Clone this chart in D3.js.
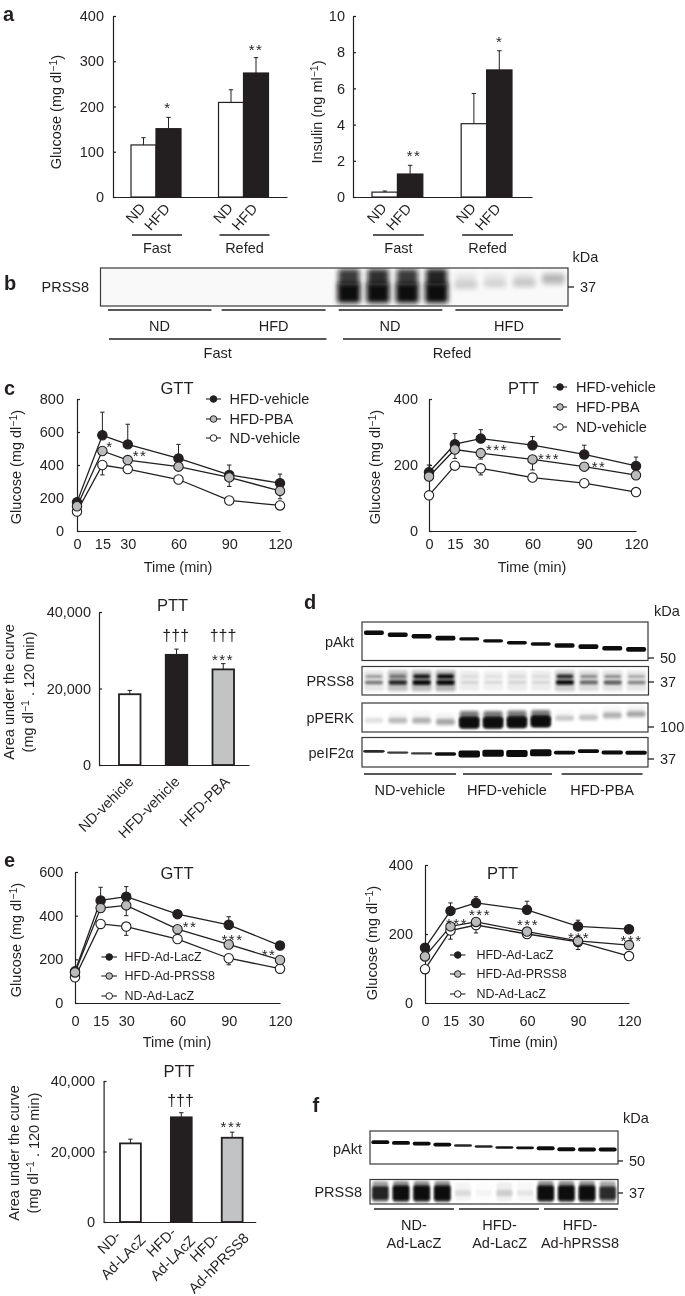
<!DOCTYPE html>
<html>
<head>
<meta charset="utf-8">
<script src="https://cdn.jsdelivr.net/npm/d3@7"></script>
<style>
  html, body { margin: 0; padding: 0; background: #fff; }
  svg { display: block; filter: blur(0.3px); }
  text { font-family: "Liberation Sans", Arial, sans-serif; font-size: 14.5px; fill: #231f20; }
  .domain, .tick line { stroke: #231f20; stroke-width: 1.2px; }
</style>
</head>
<body>
<svg id="fig" width="685" height="1296"></svg>
<script>
// panel a
const dietGroups = ['ND', 'HFD'];
const feedGroups = ['Fast', 'Refed'];
const glucoseMean = [115, 151, 209, 274];
const glucoseErr = [16, 25, 28, 34];
const insulinMean = [0.27, 1.27, 4.05, 7.02];
const insulinErr = [0.06, 0.48, 1.67, 1.06];

// panel c, line charts
const timePoints = [0, 15, 30, 60, 90, 120];
const cGttHfdVehicle = [175, 580, 525, 440, 340, 290];
const cGttHfdVehicleErr = [20, 140, 122, 85, 60, 55];
const cGttHfdPba = [150, 485, 430, 390, 325, 243];
const cGttHfdPbaErr = [15, 0, 0, 0, 55, 48];
const cGttNdVehicle = [118, 400, 375, 312, 185, 155];
const cGttNdVehicleErr = [10, 60, 20, 15, 10, 10];
const cPttHfdVehicle = [178, 263, 280, 260, 232, 197];
const cPttHfdVehicleErr = [22, 32, 27, 26, 28, 27];
const cPttHfdPba = [165, 247, 236, 217, 195, 169];
const cPttHfdPbaErr = [12, 27, 18, 32, 8, 8];
const cPttNdVehicle = [108, 198, 190, 162, 145, 118];
const cPttNdVehicleErr = [5, 5, 20, 8, 6, 6];
const cLegend = ['HFD-vehicle', 'HFD-PBA', 'ND-vehicle'];

// panel c, AUC
const cAucCategories = ['ND-vehicle', 'HFD-vehicle', 'HFD-PBA'];
const cAucMean = [18500, 28800, 25000];
const cAucErr = [1000, 1500, 1500];

// panel e, line charts
const eGttHfdLacz = [145, 470, 487, 407, 358, 263];
const eGttHfdLaczErr = [10, 60, 46, 10, 37, 8];
const eGttHfdPrss8 = [140, 435, 447, 338, 268, 197];
const eGttHfdPrss8Err = [10, 20, 47, 10, 10, 10];
const eGttNdLacz = [118, 362, 350, 293, 205, 157];
const eGttNdLaczErr = [8, 15, 40, 10, 30, 8];
const ePttHfdLacz = [160, 267, 290, 270, 222, 214];
const ePttHfdLaczErr = [10, 23, 18, 25, 18, 8];
const ePttHfdPrss8 = [135, 222, 235, 207, 180, 168];
const ePttHfdPrss8Err = [8, 20, 10, 12, 10, 10];
const ePttNdLacz = [98, 210, 226, 200, 177, 136];
const ePttNdLaczErr = [6, 25, 23, 12, 22, 6];
const eLegend = ['HFD-Ad-LacZ', 'HFD-Ad-PRSS8', 'ND-Ad-LacZ'];

// panel e, AUC
const eAucCategories = ['ND-Ad-LAcZ', 'HFD-Ad-LAcZ', 'HFD-Ad-hPRSS8'];
const eAucMean = [22300, 29700, 23900];
const eAucErr = [1200, 1300, 1600];

// blots: band position (0 top, 1 bottom of the membrane) and density per lane
const bFourLanes = 16;
const bUpperInk = [0, 0, 0, 0, 0, 0, 0, 0, 0.8, 0.85, 0.8, 0.9, 0.08, 0.08, 0.09, 0.1];
const bUpperPos = [.3, .3, .3, .3, .3, .3, .3, .3, .25, .25, .25, .25, .3, .3, .3, .3];
const bLowerInk = [0, 0, 0, 0, 0, 0, 0, 0, 1, 1, 1, 1, 0.14, 0.1, 0.14, 0.2];
const bLowerPos = [.6, .6, .6, .6, .6, .6, .6, .6, .66, .66, .66, .66, .46, .43, .4, .28];

const dAktPos = [.28, .33, .37, .42, .44, .49, .54, .57, .61, .64, .68, .71];
const dAktInk = [1, 1, 1, 1, .72, .72, .78, .78, 1, 1, 1, 1];
const dPrssInkUpper = [.3, .4, .85, .9, .08, .07, .09, .08, .75, .35, .35, .25];
const dPrssInkLower = [.45, .75, 1, 1, .1, .09, .1, .09, .9, .5, .55, .4];
const dPrssSmear = [.1, .25, .28, .3, .07, .06, .08, .07, .2, .14, .12, .1];
const dPerkPos = [.6, .6, .6, .65, .68, .68, .66, .64, .52, .5, .42, .38];
const dPerkInk = [.1, .22, .25, .28, 1, 1, 1, 1, .18, .2, .25, .28];
const dEifPos = [.47, .51, .54, .56, .56, .53, .54, .52, .51, .46, .51, .52];
const dEifInk = [.55, .5, .5, .62, 1, 1, 1, 1, .65, .65, .68, .68];

const fAktPos = [.34, .36, .38, .41, .44, .47, .5, .51, .52, .55, .56, .56];
const fAktInk = [.95, .95, .95, .95, .6, .6, .65, .65, 1, 1, 1, 1];
const fPrssInk = [.85, 1, 1, 1, .1, .03, .14, .07, 1, 1, 1, .8];

const svg = d3.select('#fig');
const defs = svg.append('defs');
[['soft0', 0.45], ['soft1', 0.8], ['soft2', 1.6], ['soft3', 2.6]].forEach(([id, sd]) => {
  defs.append('filter').attr('id', id)
    .attr('x', '-30%').attr('y', '-100%').attr('width', '160%').attr('height', '300%')
    .append('feGaussianBlur').attr('stdDeviation', sd);
});

function txt(parent, x, y, s, o = {}) {
  const t = parent.append('text')
    .attr('x', x).attr('y', y).attr('dy', '.35em')
    .attr('text-anchor', o.anchor || 'middle')
    .text(s);
  if (o.size) t.style('font-size', o.size + 'px');
  if (o.weight) t.style('font-weight', o.weight);
  if (o.rotate !== undefined) t.attr('transform', `rotate(${o.rotate},${x},${y})`);
  return t;
}

// asterisks sit high in the em box, so shift down to centre the glyph on y
function stars(x, y, s) {
  txt(svg, x, y + 3, s, { size: 15 }).style('letter-spacing', '1.5px');
}

function daggers(x, y) {
  txt(svg, x, y, '†††', { size: 16 });
}

function ylabel(parent, x, y, before, sup, after) {
  const t = txt(parent, x, y, before, { rotate: -90 });
  t.append('tspan').attr('dy', '-0.35em').style('font-size', '10.5px').text(sup);
  t.append('tspan').attr('dy', '0.35em').text(after);
  return t;
}

function hline(x1, x2, y, w = 1.4) {
  svg.append('line').attr('x1', x1).attr('x2', x2).attr('y1', y).attr('y2', y)
    .attr('stroke', '#231f20').attr('stroke-width', w);
}

function panelLetter(x, y, s) {
  txt(svg, x, y, s, { anchor: 'start', size: 20, weight: 'bold' });
}

function yAxis(x, y, pad, ticks, fmt) {
  const a = d3.axisLeft(y).tickValues(ticks).tickSizeInner(-3).tickSizeOuter(0).tickPadding(pad);
  if (fmt) a.tickFormat(fmt);
  svg.append('g').attr('transform', `translate(${x},0)`).call(a);
}

function baseLine(x0, x1, y0) {
  const s = d3.scaleLinear().domain([0, 1]).range([x0, x1]);
  svg.append('g').attr('transform', `translate(0,${y0})`)
    .call(d3.axisBottom(s).tickValues([]).tickSizeOuter(0));
}

function errBar(x, y1, y2) {
  svg.append('line').attr('x1', x).attr('x2', x).attr('y1', y1).attr('y2', y2)
    .attr('stroke', '#231f20').attr('stroke-width', 1);
  svg.append('line').attr('x1', x - 2.2).attr('x2', x + 2.2).attr('y1', y2).attr('y2', y2)
    .attr('stroke', '#231f20').attr('stroke-width', 1);
}

// panel a bars, grouped by feeding state then diet
function groupedBars(o) {
  const y = d3.scaleLinear().domain([0, o.max]).range([197, 16]);
  yAxis(o.axisX, y, o.pad, o.ticks);
  const outer = d3.scaleBand().domain(feedGroups).range(o.range).paddingInner(o.gap);
  const inner = d3.scaleBand().domain(dietGroups).range([0, outer.bandwidth()]);
  const rows = feedGroups.flatMap((f, i) => dietGroups.map((d, j) => ({
    f, d, v: o.mean[i * 2 + j], e: o.err[i * 2 + j]
  })));
  rows.forEach(r => {
    const x = outer(r.f) + inner(r.d);
    errBar(x + inner.bandwidth() / 2, y(r.v), y(r.v + r.e));
  });
  svg.selectAll(null).data(rows).join('rect')
    .attr('x', r => outer(r.f) + inner(r.d))
    .attr('y', r => y(r.v))
    .attr('width', inner.bandwidth())
    .attr('height', r => y(0) - y(r.v))
    .attr('fill', r => r.d === 'ND' ? '#fff' : '#231f20')
    .attr('stroke', '#231f20').attr('stroke-width', 1.2);
  baseLine(o.axisX, o.axisEnd, 197);
  rows.forEach(r => {
    const cx = outer(r.f) + inner(r.d) + inner.bandwidth() / 2 + (r.d === 'ND' ? -8 : -11.5);
    txt(svg, cx, r.d === 'ND' ? 213 : 217, r.d, { rotate: -48 });
  });
  feedGroups.forEach(f => {
    hline(outer(f) + 1, outer(f) + outer.bandwidth() + 1, 235);
    txt(svg, outer(f) + outer.bandwidth() / 2 + 1, 248, f);
  });
  return y;
}

// single time course chart
function courseChart(o) {
  const x = d3.scaleLinear().domain([0, 120]).range(o.xr);
  const y = d3.scaleLinear().domain([0, o.max]).range(o.yr);
  yAxis(o.xr[0], y, o.pad, o.ticks);
  svg.append('g').attr('transform', `translate(0,${o.yr[0]})`)
    .call(d3.axisBottom(x).tickValues(timePoints).tickSize(0).tickPadding(o.xPad).tickSizeOuter(0));
  const line = d3.line().x((d, i) => x(timePoints[i])).y(d => y(d));
  // up: black series, down: gray and white series
  o.series.forEach(s => {
    s.vals.forEach((v, i) => {
      if (s.err[i]) errBar(x(timePoints[i]), y(v), y(v + s.dir * s.err[i]));
    });
  });
  o.series.forEach(s => {
    svg.append('path').attr('d', line(s.vals)).attr('fill', 'none')
      .attr('stroke', '#231f20').attr('stroke-width', 1.3);
  });
  o.series.forEach(s => {
    svg.selectAll(null).data(s.vals).join('circle')
      .attr('cx', (d, i) => x(timePoints[i]))
      .attr('cy', d => y(d))
      .attr('r', 4.7)
      .attr('fill', s.fill)
      .attr('stroke', '#231f20').attr('stroke-width', 1.1);
  });
  return { x, y };
}

function legend(o) {
  o.labels.forEach((lab, i) => {
    const yy = o.ys[i];
    hline(o.x1, o.x2, yy, 1.1);
    svg.append('circle').attr('cx', (o.x1 + o.x2) / 2).attr('cy', yy).attr('r', 3.3)
      .attr('fill', o.fills[i]).attr('stroke', '#231f20').attr('stroke-width', 1);
    txt(svg, o.tx, yy, lab, { anchor: 'start', size: o.size });
  });
}

function aucChart(o) {
  const y = d3.scaleLinear().domain([0, 40000]).range(o.yr);
  yAxis(o.axisX, y, o.pad, [0, 20000, 40000], d3.format(','));
  const x = d3.scaleBand().domain(o.cats).range(o.range).paddingInner(o.gap);
  o.cats.forEach((c, i) => errBar(x(c) + x.bandwidth() / 2, y(o.mean[i]), y(o.mean[i] + o.err[i])));
  svg.selectAll(null).data(o.cats).join('rect')
    .attr('x', c => x(c))
    .attr('y', (c, i) => y(o.mean[i]))
    .attr('width', x.bandwidth())
    .attr('height', (c, i) => y(0) - y(o.mean[i]))
    .attr('fill', (c, i) => ['#fff', '#231f20', '#c1c3c5'][i])
    .attr('stroke', '#231f20').attr('stroke-width', 1.8);
  baseLine(o.axisX, o.axisEnd, o.yr[0]);
  return { x, y };
}

// western blot membrane; each layer is one row of bands across the lanes
function blot(o) {
  const g = svg.append('g');
  const lane = d3.scaleBand().domain(d3.range(o.lanes)).range([o.x, o.x + o.w]);
  const pos = d3.scaleLinear().domain([0, 1]).range([o.y, o.y + o.h]);
  const id = 'clip' + Math.round(o.x) + '_' + Math.round(o.y);
  defs.append('clipPath').attr('id', id).append('rect')
    .attr('x', o.x).attr('y', o.y).attr('width', o.w).attr('height', o.h);
  const inner = g.append('g').attr('clip-path', `url(#${id})`);
  inner.append('rect').attr('x', o.x).attr('y', o.y).attr('width', o.w).attr('height', o.h)
    .attr('fill', o.bg || '#fff');
  o.layers.forEach(l => {
    const thick = d3.scaleLinear().domain([0, 1]).range(l.thick);
    inner.selectAll(null).data(d3.range(o.lanes)).join('rect')
      .attr('x', i => lane(i) + lane.bandwidth() * (1 - l.wide) / 2)
      .attr('width', lane.bandwidth() * l.wide)
      .attr('y', i => pos(l.pos[i]) - thick(l.ink[i]) / 2)
      .attr('height', i => thick(l.ink[i]))
      .attr('rx', 2)
      .attr('fill', '#0d0c0c')
      .attr('opacity', i => Math.min(1, l.ink[i] * (l.gain || 1)))
      .attr('filter', `url(#${l.blur})`);
  });
  g.append('rect').attr('x', o.x).attr('y', o.y).attr('width', o.w).attr('height', o.h)
    .attr('fill', 'none').attr('stroke', '#3a3839').attr('stroke-width', 1.2);
}

function sizeMark(x, y, s, tick = 6) {
  hline(x, x + tick, y, 1.3);
  txt(svg, x + tick + 6, y, s, { anchor: 'start' });
}

const same = v => d3.range(12).map(() => v);

// ---- a ----
panelLetter(3, 14, 'a');
groupedBars({ max: 400, ticks: [0, 100, 200, 300, 400], axisX: 113, axisEnd: 287, pad: 9,
  range: [131, 268.5], gap: 0.4286, mean: glucoseMean, err: glucoseErr });
ylabel(svg, 56, 112, 'Glucose (mg dl', '−1', ')');
stars(168, 105, '*');
stars(256, 47, '**');
groupedBars({ max: 10, ticks: [0, 2, 4, 6, 8, 10], axisX: 353, axisEnd: 532, pad: 8,
  range: [372, 512], gap: 0.43, mean: insulinMean, err: insulinErr });
ylabel(svg, 317, 112, 'Insulin (ng ml', '−1', ')');
stars(414, 153, '**');
stars(499.6, 39, '*');

// ---- b ----
panelLetter(4, 283, 'b');
txt(svg, 41.5, 287, 'PRSS8', { anchor: 'start' });
txt(svg, 572.5, 257, 'kDa', { anchor: 'start' });
blot({ x: 100.5, y: 268, w: 467.5, h: 38, lanes: bFourLanes, bg: '#f9f9f9', layers: [
  { pos: bUpperPos, ink: bUpperInk, thick: [12, 18], wide: 0.72, blur: 'soft3' },
  { pos: bLowerPos, ink: bLowerInk, thick: [6, 20], wide: 0.78, blur: 'soft3' }
] });
sizeMark(568, 287, '37');
[[108, 211.5], [221.6, 325.6], [338.7, 442.3], [455.4, 563]].forEach(d => hline(d[0], d[1], 310));
[[159.5, 'ND'], [273.6, 'HFD'], [390, 'ND'], [509, 'HFD']].forEach(d => txt(svg, d[0], 326, d[1]));
hline(109, 326.5, 339);
hline(343, 560.7, 339);
txt(svg, 217.7, 353, 'Fast');
txt(svg, 452, 353, 'Refed');

// ---- c ----
panelLetter(4, 388, 'c');
const lineFills = ['#231f20', '#b9bbbd', '#fff'];
courseChart({ xr: [77, 280], yr: [531, 399], max: 800, ticks: [0, 200, 400, 600, 800], pad: 13, xPad: 8,
  series: [
    { vals: cGttHfdVehicle, err: cGttHfdVehicleErr, dir: 1, fill: lineFills[0] },
    { vals: cGttNdVehicle, err: cGttNdVehicleErr, dir: -1, fill: lineFills[2] },
    { vals: cGttHfdPba, err: cGttHfdPbaErr, dir: -1, fill: lineFills[1] }
  ] });
ylabel(svg, 16, 467, 'Glucose (mg dl', '−1', ')');
txt(svg, 177, 388, 'GTT', { size: 16.5 });
txt(svg, 178, 567, 'Time (min)');
stars(110, 444, '*');
stars(140, 453, '**');
legend({ labels: cLegend, fills: lineFills, ys: [399, 419, 438], x1: 206, x2: 221, tx: 229.5 });

courseChart({ xr: [429, 636], yr: [531, 399], max: 400, ticks: [0, 200, 400], pad: 11, xPad: 8,
  series: [
    { vals: cPttHfdVehicle, err: cPttHfdVehicleErr, dir: 1, fill: lineFills[0] },
    { vals: cPttNdVehicle, err: cPttNdVehicleErr, dir: -1, fill: lineFills[2] },
    { vals: cPttHfdPba, err: cPttHfdPbaErr, dir: -1, fill: lineFills[1] }
  ] });
ylabel(svg, 375, 467, 'Glucose (mg dl', '−1', ')');
txt(svg, 523.6, 388, 'PTT', { size: 16.5 });
txt(svg, 532, 567, 'Time (min)');
stars(497, 447, '***');
stars(549, 456, '***');
stars(599, 464, '**');
legend({ labels: cLegend, fills: lineFills, ys: [387, 407, 427], x1: 553, x2: 567, tx: 576 });

aucChart({ yr: [765, 612], axisX: 99, axisEnd: 249, pad: 8, cats: cAucCategories,
  range: [119, 234], gap: 0.54, mean: cAucMean, err: cAucErr });
txt(svg, 172.6, 605, 'PTT', { size: 16.5 });
daggers(175.7, 635);
daggers(223, 635);
stars(223, 657, '***');
txt(svg, 9, 692, 'Area under the curve', { rotate: -90 });
const cAucUnit = txt(svg, 28, 692, '(mg dl', { rotate: -90 });
cAucUnit.append('tspan').attr('dy', '-0.35em').style('font-size', '10.5px').text('−1');
cAucUnit.append('tspan').attr('dy', '0.35em').text(' . 120 min)');
[[131, cAucCategories[0]], [177, cAucCategories[1]], [227, cAucCategories[2]]].forEach(d => {
  txt(svg, d[0], 779, d[1], { anchor: 'end', rotate: -45 });
});

// ---- d ----
panelLetter(304, 602, 'd');
txt(svg, 654, 611, 'kDa', { anchor: 'start' });
blot({ x: 362, y: 622, w: 286, h: 38.5, lanes: 12, layers: [
  { pos: dAktPos, ink: dAktInk, thick: [0, 4.6], wide: 0.84, blur: 'soft0', gain: 1.5 }
] });
blot({ x: 362, y: 666.5, w: 286.5, h: 28.5, lanes: 12, layers: [
  { pos: same(.5), ink: dPrssSmear, thick: [20, 24], wide: 0.85, blur: 'soft2' },
  { pos: same(.35), ink: dPrssInkUpper, thick: [2.5, 4.5], wide: 0.7, blur: 'soft1', gain: 1.15 },
  { pos: same(.56), ink: dPrssInkLower, thick: [2.5, 5], wide: 0.75, blur: 'soft1', gain: 1.15 }
] });
blot({ x: 362, y: 703, w: 286, h: 29, lanes: 12, layers: [
  { pos: dPerkPos.map(v => v - .22), ink: dPerkInk.map(v => v * v * 0.55), thick: [5, 15], wide: 0.8, blur: 'soft2' },
  { pos: dPerkPos, ink: dPerkInk, thick: [5, 11], wide: 0.78, blur: 'soft2', gain: 1.1 },
  { pos: dPerkPos, ink: dPerkInk.map(v => v * v), thick: [3, 10], wide: 0.82, blur: 'soft1' }
] });
blot({ x: 362, y: 737.5, w: 286, h: 29.5, lanes: 12, layers: [
  { pos: dEifPos, ink: dEifInk, thick: [-2.5, 7], wide: 0.9, blur: 'soft0', gain: 1.6 }
] });
txt(svg, 354, 642, 'pAkt', { anchor: 'end' });
txt(svg, 354, 681, 'PRSS8', { anchor: 'end' });
txt(svg, 354, 718, 'pPERK', { anchor: 'end' });
txt(svg, 354, 753, 'peIF2α', { anchor: 'end' });
sizeMark(648, 658, '50');
sizeMark(648, 682, '37');
sizeMark(648, 727, '100');
sizeMark(648, 759, '37');
[[364, 456], [463, 552], [561.6, 642.5]].forEach(d => hline(d[0], d[1], 774));
[[410, 'ND-vehicle'], [507, 'HFD-vehicle'], [602, 'HFD-PBA']].forEach(d => txt(svg, d[0], 790, d[1]));

// ---- e ----
panelLetter(4, 860, 'e');
courseChart({ xr: [75, 280], yr: [1003, 872], max: 600, ticks: [0, 200, 400, 600], pad: 11.6, xPad: 13,
  series: [
    { vals: eGttHfdLacz, err: eGttHfdLaczErr, dir: 1, fill: lineFills[0] },
    { vals: eGttNdLacz, err: eGttNdLaczErr, dir: -1, fill: lineFills[2] },
    { vals: eGttHfdPrss8, err: eGttHfdPrss8Err, dir: -1, fill: lineFills[1] }
  ] });
ylabel(svg, 16, 940, 'Glucose (mg dl', '−1', ')');
txt(svg, 177, 873, 'GTT', { size: 16.5 });
txt(svg, 177, 1042, 'Time (min)');
stars(190, 924, '**');
stars(232.5, 937, '***');
stars(269, 952, '**');
legend({ labels: eLegend, fills: lineFills, ys: [957, 976, 996], x1: 101.4, x2: 117, tx: 124.6, size: 12.5 });

courseChart({ xr: [425, 629], yr: [1003, 865], max: 400, ticks: [0, 200, 400], pad: 12, xPad: 13,
  series: [
    { vals: ePttHfdLacz, err: ePttHfdLaczErr, dir: 1, fill: lineFills[0] },
    { vals: ePttNdLacz, err: ePttNdLaczErr, dir: -1, fill: lineFills[2] },
    { vals: ePttHfdPrss8, err: ePttHfdPrss8Err, dir: -1, fill: lineFills[1] }
  ] });
ylabel(svg, 371.5, 943, 'Glucose (mg dl', '−1', ')');
txt(svg, 502.6, 873, 'PTT', { size: 16.5 });
txt(svg, 523.6, 1042, 'Time (min)');
[[457, 921], [480, 912], [528, 922], [579, 935], [631.5, 938]].forEach(d => stars(d[0], d[1], '***'));
legend({ labels: eLegend, fills: lineFills, ys: [955, 974, 994], x1: 450, x2: 465.5, tx: 476.4, size: 12.5 });

aucChart({ yr: [1222, 1081], axisX: 103.6, axisEnd: 255.7, pad: 8.5, cats: eAucCategories,
  range: [120, 242.6], gap: 0.59, mean: eAucMean, err: eAucErr });
txt(svg, 179, 1071, 'PTT', { size: 16.5 });
daggers(180.5, 1100);
stars(231.6, 1124, '***');
txt(svg, 14.4, 1153, 'Area under the curve', { rotate: -90 });
const eAucUnit = txt(svg, 32.8, 1153, '(mg dl', { rotate: -90 });
eAucUnit.append('tspan').attr('dy', '-0.35em').style('font-size', '10.5px').text('−1');
eAucUnit.append('tspan').attr('dy', '0.35em').text(' . 120 min)');
[[109, 1242, 'ND-'], [123, 1257, 'Ad-LAcZ'], [161, 1242, 'HFD-'], [172.6, 1258, 'Ad-LAcZ'],
 [204.5, 1247, 'HFD-'], [218.5, 1263, 'Ad-hPRSS8']].forEach(d => {
  txt(svg, d[0], d[1], d[2], { rotate: -45 });
});

// ---- f ----
panelLetter(312.5, 1105, 'f');
txt(svg, 623, 1118, 'kDa', { anchor: 'start' });
blot({ x: 370, y: 1131, w: 248, h: 33, lanes: 12, layers: [
  { pos: fAktPos, ink: fAktInk, thick: [0, 4], wide: 0.87, blur: 'soft0', gain: 1.5 }
] });
blot({ x: 370, y: 1179.5, w: 248, h: 24.5, lanes: 12, layers: [
  { pos: same(.5), ink: fPrssInk.map(v => v * 0.45), thick: [18, 26], wide: 0.76, blur: 'soft1' },
  { pos: same(.55), ink: fPrssInk, thick: [5, 15], wide: 0.8, blur: 'soft1' }
] });
txt(svg, 362, 1149, 'pAkt', { anchor: 'end' });
txt(svg, 362, 1192, 'PRSS8', { anchor: 'end' });
sizeMark(618, 1161, '50', 5);
sizeMark(618, 1193, '37', 5);
[[374, 454], [459, 539], [544, 618]].forEach(d => hline(d[0], d[1], 1209));
[[414, 'ND-', 'Ad-LacZ'], [499.6, 'HFD-', 'Ad-LacZ'], [580, 'HFD-', 'Ad-hPRSS8']].forEach(d => {
  txt(svg, d[0], 1225, d[1]);
  txt(svg, d[0], 1243, d[2]);
});
</script>
</body>
</html>
